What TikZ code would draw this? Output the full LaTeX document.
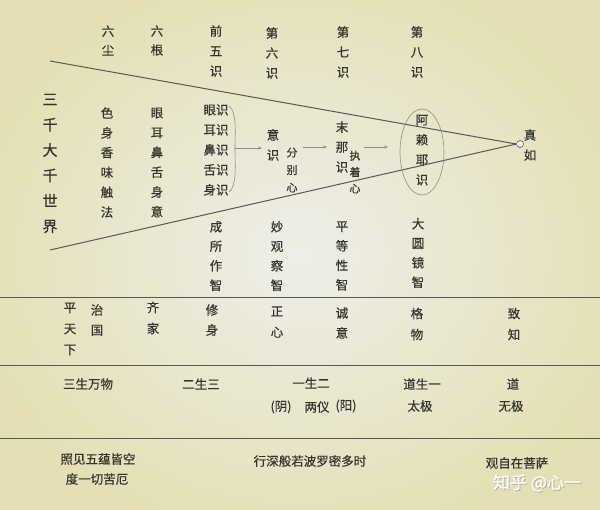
\documentclass[tikz,border=0pt]{standalone}
\usepackage{fontspec}
\newfontfamily\cjk{Noto Sans CJK SC}[FakeBold=0.4]
\definecolor{ink}{HTML}{333331}
\definecolor{lin}{HTML}{585854}
\definecolor{thin}{HTML}{8E8E88}
\definecolor{bgin}{HTML}{EEEEE9}
\definecolor{bgout}{HTML}{E3DFB0}
\usetikzlibrary{arrows.meta,shapes.geometric}
\begin{document}
\begin{tikzpicture}[x=1pt,y=-1pt,
  col/.style={align=center,text=ink,inner sep=0pt,font=\cjk\fontsize{12.5}{#1}\selectfont},
  col/.default=20,
  scol/.style={align=center,text=ink,inner sep=0pt,font=\cjk\fontsize{11}{#1}\selectfont},
  row/.style={text=ink,inner sep=0pt,font=\cjk\fontsize{12.5}{15}\selectfont},
  cone/.style={draw=lin,line width=1pt},
  sep/.style={draw=lin,line width=0.9pt},
  flow/.style={draw=thin,line width=0.6pt,-{Stealth[length=4pt,width=3pt]}},
  thinline/.style={draw=thin,line width=0.6pt}]
\useasboundingbox (0,0) rectangle (600,509);
\shade[inner color=bgin, outer color=bgout] (-60,-60) rectangle (660,569);

% top headings
\node[col=19] (liuchen) at (108,40.5) {六\\尘};
\node[col=19] (liugen) at (157,40.5) {六\\根};
\node[col] (qianwu) at (216,51) {前\\五\\识};
\node[col] (di6) at (272,53) {第\\六\\识};
\node[col] (di7) at (343,52) {第\\七\\识};
\node[col] (di8) at (417,52) {第\\八\\识};

% cone
\coordinate (L1) at (50,61);
\coordinate (L2) at (50,250);
\node[circle,draw=lin,fill=white!95!gray,line width=0.6pt,minimum size=7pt,inner sep=0pt] (tip) at (520,144) {};
\draw[cone] (L1) -- (tip.west);
\draw[cone] (L2) -- (tip.west);

\node[align=center,text=ink,inner sep=0pt,font=\cjk\fontsize{15}{25.4}\selectfont] (sanqian) at (50,163.5) {三\\千\\大\\千\\世\\界};
\node[col=19.8] (seshen) at (107,162.5) {色\\身\\香\\味\\触\\法};
\node[col=19.8] (yaner) at (157,162.5) {眼\\耳\\鼻\\舌\\身\\意};
\node[col] (wushi) at (216,150) {眼识\\耳识\\鼻识\\舌识\\身识};
\node[col] (yishi) at (273,145) {意\\识};
\node[scol=17.5] (fenbie) at (292,170) {分\\别\\心};
\node[col] (mona) at (342,147) {末\\那\\识};
\node[scol=16.5] (zhizhe) at (355,172) {执\\着\\心};
\node[col] (alaiye) at (422,150) {阿\\赖\\耶\\识};
\node[draw=thin,line width=0.6pt,ellipse,minimum width=44pt,minimum height=86pt,inner sep=0pt] (oval) at (422,152) {};
\node[col] (zhenru) at (530,145) {真\\如};

% brace and arrows
\coordinate (b1) at (229,106);
\coordinate (b2) at (229,192);
\coordinate (bm) at (235,148);
\draw[thinline] (b1) .. controls (237,112) and (235,132) .. (bm) .. controls (235,166) and (237,186) .. (b2);
\coordinate (a1e) at (262,148);
\draw[flow] (bm) -- (a1e);
\coordinate (a2s) at (303,147);
\coordinate (a2e) at (327,147);
\draw[flow] (a2s) -- (a2e);
\coordinate (a3s) at (364,147);
\coordinate (a3e) at (388,147);
\draw[flow] (a3s) -- (a3e);

% four wisdoms
\node[col=19.5] (chengsuo) at (216,256) {成\\所\\作\\智};
\node[col=19.5] (miaoguan) at (277,256) {妙\\观\\察\\智};
\node[col=19.5] (pingdeng) at (342,256) {平\\等\\性\\智};
\node[col=19.5] (dayuan) at (418,253) {大\\圆\\镜\\智};

% separators
\coordinate (s1a) at (0,297); \coordinate (s1b) at (600,297);
\coordinate (s2a) at (0,365); \coordinate (s2b) at (600,365);
\coordinate (s3a) at (0,438); \coordinate (s3b) at (600,438);
\draw[sep] (s1a) -- (s1b);
\draw[sep] (s2a) -- (s2b);
\draw[sep] (s3a) -- (s3b);

% row 2
\node[col=21] (ptx) at (70,329) {平\\天\\下};
\node[col] (zhiguo) at (97,320) {治\\国};
\node[col=21] (qijia) at (153,318) {齐\\家};
\node[col] (xiushen) at (212,320) {修\\身};
\node[col=21] (zhengxin) at (277,322) {正\\心};
\node[col] (chengyi) at (342,323) {诚\\意};
\node[col=21] (gewu) at (417,324) {格\\物};
\node[col=21] (zhizhi) at (514,324) {致\\知};

% row 3
\node[row] (sanwan) at (88,384) {三生万物};
\node[row] (ersan) at (201,384) {二生三};
\node[row] (yier) at (311,383) {一生二};
\node[row] (yin) at (281,407) {(阴)};
\node[row] (liangyi) at (317,407) {两仪};
\node[row] (yang) at (346,406) {(阳)};
\node[row] (daoyi) at (422,384) {道生一};
\node[row] (taiji) at (420,406) {太极};
\node[row] (dao) at (513,384) {道};
\node[row] (wuji) at (511,406) {无极};

% row 4
\node[row] (zhaojian) at (98,459) {照见五蕴皆空};
\node[row] (duyi) at (97,479) {度一切苦厄};
\node[row] (xingshen) at (310,461) {行深般若波罗密多时};
\node[row] (guanzi) at (517,463) {观自在菩萨};

% watermark
\node[text=gray!60,inner sep=0pt,font=\cjk\fontsize{17}{20}\selectfont] (wmshadow) at (538,484) {知乎 @心一};
\node[text=white,inner sep=0pt,font=\cjk\fontsize{17}{20}\selectfont] (wm) at (537,483) {知乎 @心一};
\end{tikzpicture}
\end{document}
